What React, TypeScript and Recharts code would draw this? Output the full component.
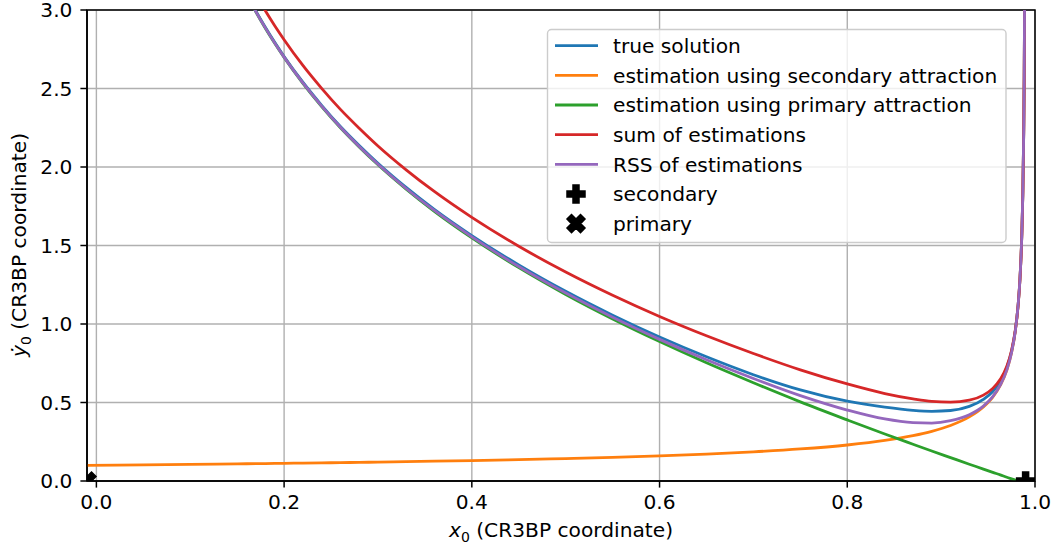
import { ComposedChart, Line, Scatter, XAxis, YAxis, CartesianGrid, ReferenceArea } from "recharts";

// x0 samples (CR3BP coordinate)
const X_VALUES = [
  -0.01, 0.05, 0.1, 0.15, 0.16, 0.17, 0.18, 0.19, 0.2, 0.22, 0.24, 0.26, 0.28, 0.3, 0.33, 0.36, 0.4, 0.45,
  0.5, 0.55, 0.6, 0.65, 0.7, 0.75, 0.8, 0.84, 0.87, 0.89, 0.91, 0.93, 0.945, 0.955, 0.963, 0.97, 0.975,
  0.979, 0.982, 0.984, 0.986, 0.987, 0.988, 0.9885, 0.989,
];

const TRUE_SOLUTION = [
  null, null, null, 3.225, 3.104, 2.993, 2.89, 2.794, 2.704, 2.54, 2.393, 2.258, 2.137, 2.024, 1.87, 1.73,
  1.563, 1.376, 1.208, 1.056, 0.917, 0.791, 0.677, 0.58, 0.508, 0.47, 0.45, 0.444, 0.449, 0.475, 0.52, 0.57,
  0.635, 0.725, 0.826, 0.958, 1.12, 1.29, 1.578, 1.822, 2.232, 2.578, 3.158,
];

const SECONDARY_EST = [
  0.1, 0.1031, 0.106, 0.1091, 0.1098, 0.1104, 0.1111, 0.1118, 0.1125, 0.114, 0.1155, 0.117, 0.1187, 0.1204,
  0.1231, 0.126, 0.1302, 0.1361, 0.1429, 0.1508, 0.1601, 0.1715, 0.1857, 0.2041, 0.2294, 0.2582, 0.2887,
  0.3162, 0.3536, 0.4082, 0.4714, 0.5345, 0.6086, 0.7071, 0.8165, 0.9535, 1.118, 1.291, 1.581, 1.826, 2.236,
  2.582, 3.162,
];

const PRIMARY_EST = [
  null, null, null, 3.218, 3.098, 2.987, 2.884, 2.788, 2.698, 2.533, 2.385, 2.25, 2.128, 2.014, 1.859, 1.718,
  1.549, 1.359, 1.188, 1.032, 0.888, 0.753, 0.626, 0.504, 0.389, 0.299, 0.234, 0.191, 0.149, 0.107, 0.076,
  0.055, 0.039, 0.024, 0.014, 0.006, 0.0, -0.004, -0.008, -0.01, -0.012, -0.013, -0.014,
];

const SUM_EST = [
  null, null, null, 3.327, 3.208, 3.097, 2.995, 2.9, 2.811, 2.647, 2.501, 2.367, 2.247, 2.134, 1.982, 1.844,
  1.679, 1.495, 1.331, 1.183, 1.048, 0.925, 0.812, 0.708, 0.618, 0.557, 0.523, 0.507, 0.503, 0.515, 0.547,
  0.59, 0.648, 0.731, 0.831, 0.96, 1.118, 1.287, 1.573, 1.816, 2.224, 2.569, 3.148,
];

const RSS_EST = [
  null, null, null, 3.22, 3.1, 2.989, 2.886, 2.79, 2.7, 2.536, 2.388, 2.253, 2.131, 2.018, 1.863, 1.723,
  1.555, 1.366, 1.197, 1.043, 0.902, 0.772, 0.653, 0.544, 0.452, 0.395, 0.372, 0.369, 0.384, 0.422, 0.477,
  0.537, 0.61, 0.7075, 0.8166, 0.9535, 1.118, 1.291, 1.581, 1.826, 2.236, 2.582, 3.162,
];

const SECONDARY_POS = [{ x: 0.99, y: 0 }];
const PRIMARY_POS = [{ x: -0.01, y: 0 }];

const X_TICKS = [0, 0.2, 0.4, 0.6, 0.8, 1.0];
const Y_TICKS = [0, 0.5, 1, 1.5, 2, 2.5, 3];

const SERIES = [
  { key: "truth", label: "true solution", color: "#1f77b4", values: TRUE_SOLUTION },
  { key: "secondary", label: "estimation using secondary attraction", color: "#ff7f0e", values: SECONDARY_EST },
  { key: "primary", label: "estimation using primary attraction", color: "#2ca02c", values: PRIMARY_EST },
  { key: "sum", label: "sum of estimations", color: "#d62728", values: SUM_EST },
  { key: "rss", label: "RSS of estimations", color: "#9467bd", values: RSS_EST },
];

const data = X_VALUES.map((x, i) => {
  const row: Record<string, number | null> = { x };
  SERIES.forEach((s) => (row[s.key] = s.values[i]));
  return row;
});

const FONT = "DejaVu Sans";
const FS = 20.2;
const LW = 2.8;

const PLUS = [[-1, -3], [1, -3], [1, -1], [3, -1], [3, 1], [1, 1], [1, 3], [-1, 3], [-1, 1], [-3, 1], [-3, -1], [-1, -1]];
const CROSS = [[-1, -2], [0, -1], [1, -2], [2, -1], [1, 0], [2, 1], [1, 2], [0, 1], [-1, 2], [-2, 1], [-1, 0], [-2, -1]];

function Marker({ cx, cy, path, scale }: { cx: number; cy: number; path: number[][]; scale: number }) {
  const pts = path.map(([a, b]) => `${cx + a * scale},${cy + b * scale}`).join(" ");
  return <polygon points={pts} fill="#000" stroke="#000" strokeWidth={1.5} strokeLinejoin="miter" />;
}

export default function App() {
  const rowY = (i: number) => 45.7 + i * 29.65;
  return (
    <div
      style={{
        position: "absolute",
        left: 0,
        top: 0,
        width: 1060,
        height: 549,
        background: "#fff",
        fontFamily: FONT,
      }}
    >
      <ComposedChart width={1060} height={549} data={data} margin={{ top: 10, right: 25, bottom: 28, left: 0 }}>
        <CartesianGrid stroke="#b0b0b0" strokeWidth={1.4} />
        <XAxis
          dataKey="x"
          type="number"
          domain={[-0.01, 1]}
          ticks={X_TICKS}
          interval={0}
          allowDataOverflow
          tickFormatter={(v: number) => v.toFixed(1)}
          tick={{ fill: "#000", fontSize: FS, fontFamily: FONT }}
          tickLine={{ stroke: "#000", strokeWidth: 1.5 }}
          axisLine={{ stroke: "#000", strokeWidth: 1.5 }}
          tickSize={6.6}
          tickMargin={7}
          height={40}
        />
        <YAxis
          type="number"
          domain={[0, 3]}
          ticks={Y_TICKS}
          interval={0}
          allowDataOverflow
          tickFormatter={(v: number) => v.toFixed(1)}
          tick={{ fill: "#000", fontSize: FS, fontFamily: FONT }}
          tickLine={{ stroke: "#000", strokeWidth: 1.5 }}
          axisLine={{ stroke: "#000", strokeWidth: 1.5 }}
          tickSize={6.6}
          tickMargin={8}
          width={87}
        />
        {SERIES.map((s) => (
          <Line
            key={s.key}
            dataKey={s.key}
            type="monotone"
            stroke={s.color}
            strokeWidth={LW}
            dot={false}
            activeDot={false}
            isAnimationActive={false}
          />
        ))}
        <Scatter
          data={SECONDARY_POS}
          dataKey="y"
          isAnimationActive={false}
          shape={(p: any) => <Marker cx={p.cx} cy={p.cy} path={PLUS} scale={3} />}
        />
        <Scatter
          data={PRIMARY_POS}
          dataKey="y"
          isAnimationActive={false}
          shape={(p: any) => <Marker cx={p.cx} cy={p.cy} path={CROSS} scale={4.5} />}
        />
        <ReferenceArea x1={-0.01} x2={1} y1={0} y2={3} fill="none" stroke="#000" strokeWidth={1.5} />
      </ComposedChart>

      <svg
        width={1060}
        height={549}
        style={{ position: "absolute", left: 0, top: 0, pointerEvents: "none" }}
        fontFamily={FONT}
      >
        {/* axis titles */}
        <text x={561} y={537} textAnchor="middle" fontSize={FS} fill="#000">
          <tspan fontStyle="italic">x</tspan>
          <tspan dy={4.5} fontSize={14}>0</tspan>
          <tspan dy={-4.5}> (CR3BP coordinate)</tspan>
        </text>
        <text transform="rotate(-90)" x={-245} y={26} textAnchor="middle" fontSize={FS} fill="#000">
          <tspan fontStyle="italic">ẏ</tspan>
          <tspan dy={4.5} fontSize={14}>0</tspan>
          <tspan dy={-4.5}> (CR3BP coordinate)</tspan>
        </text>

        {/* legend */}
        <rect x={547.5} y={29.5} width={458.5} height={213} rx={4} fill="#fff" fillOpacity={0.8} stroke="#cccccc" strokeWidth={1.4} />
        {SERIES.map((s, i) => (
          <g key={s.key}>
            <line x1={555} x2={598} y1={rowY(i)} y2={rowY(i)} stroke={s.color} strokeWidth={LW} />
            <text x={613} y={rowY(i) + 7.3} fontSize={FS} fill="#000">
              {s.label}
            </text>
          </g>
        ))}
        <Marker cx={576} cy={rowY(5)} path={PLUS} scale={3} />
        <text x={613} y={rowY(5) + 7.3} fontSize={FS} fill="#000">
          secondary
        </text>
        <Marker cx={576} cy={rowY(6)} path={CROSS} scale={4.5} />
        <text x={613} y={rowY(6) + 7.3} fontSize={FS} fill="#000">
          primary
        </text>
      </svg>
    </div>
  );
}
